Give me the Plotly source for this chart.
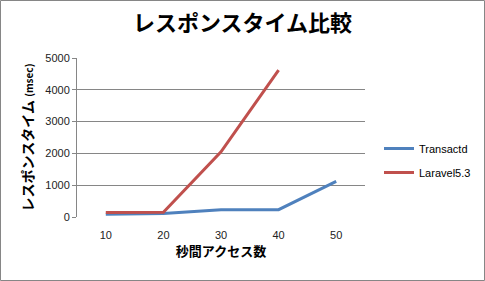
import plotly.graph_objects as go

categories = ["10", "20", "30", "40", "50"]
transactd = [85, 110, 230, 230, 1120]
laravel = [140, 150, 2050, 4620, None]
y_ticks = [0, 1000, 2000, 3000, 4000, 5000]

W, H = 485, 281
L, R, T, B = 77, 120, 58, 64
pw, ph = W - L - R, H - T - B

FONT = "Noto Sans CJK JP"
TICKFONT = "Liberation Sans"

fig = go.Figure()
fig.add_trace(go.Scatter(x=categories, y=transactd, mode="lines", name="Transactd",
                         legendgroup="a", line=dict(color="#4F81BD", width=3)))
fig.add_trace(go.Scatter(x=categories, y=laravel, mode="lines", name="Laravel5.3",
                         legendgroup="b", line=dict(color="#C0504D", width=3)))

fig.update_layout(
    width=W, height=H,
    margin=dict(l=L, r=R, t=T, b=B, autoexpand=False),
    paper_bgcolor="white", plot_bgcolor="white",
    font=dict(family=TICKFONT, size=11, color="#222"),
    title=dict(text="<b>レスポンスタイム比較</b>", x=0.5, xref="container", xanchor="center",
               y=1 - 23 / H, yanchor="middle",
               font=dict(family=FONT, size=22, color="black")),
    legend=dict(x=(379 - L) / pw, y=1 - (134 - T) / ph, xanchor="left", yanchor="top",
                font=dict(family=TICKFONT, size=11, color="black"),
                tracegroupgap=5, itemwidth=30, bgcolor="rgba(0,0,0,0)"),
    showlegend=True,
)
fig.update_xaxes(type="category", categoryorder="array", categoryarray=categories,
                 range=[-0.5, 4.5], showgrid=False, showline=False, ticks="",
                 zeroline=False, ticklabelstandoff=10,
                 title=dict(text="<b>秒間アクセス数</b>", font=dict(family=FONT, size=13, color="black"),
                            standoff=6),
                 tickfont=dict(family=TICKFONT, size=11, color="#222"))
fig.update_yaxes(range=[0, 5000], tickvals=y_ticks, showgrid=True, gridcolor="#868686",
                 gridwidth=1, showline=True, linecolor="#868686", linewidth=1,
                 ticks="outside", ticklen=4, tickcolor="#868686", zeroline=False,
                 title=dict(text="<b>レスポンスタイム <span style='font-size:10px'>(msec)</span></b>",
                            font=dict(family=FONT, size=14, color="black"), standoff=8),
                 tickfont=dict(family=TICKFONT, size=11, color="#222"))

# outer border of the chart
fig.add_shape(type="rect", xref="paper", yref="paper",
              x0=(0.5 - L) / pw, x1=(W - 0.5 - L) / pw,
              y0=-(H - 0.5 - T - ph) / ph, y1=1 + (T - 0.5) / ph,
              line=dict(color="#868686", width=1), fillcolor="rgba(0,0,0,0)")

fig.write_html("out.html")
